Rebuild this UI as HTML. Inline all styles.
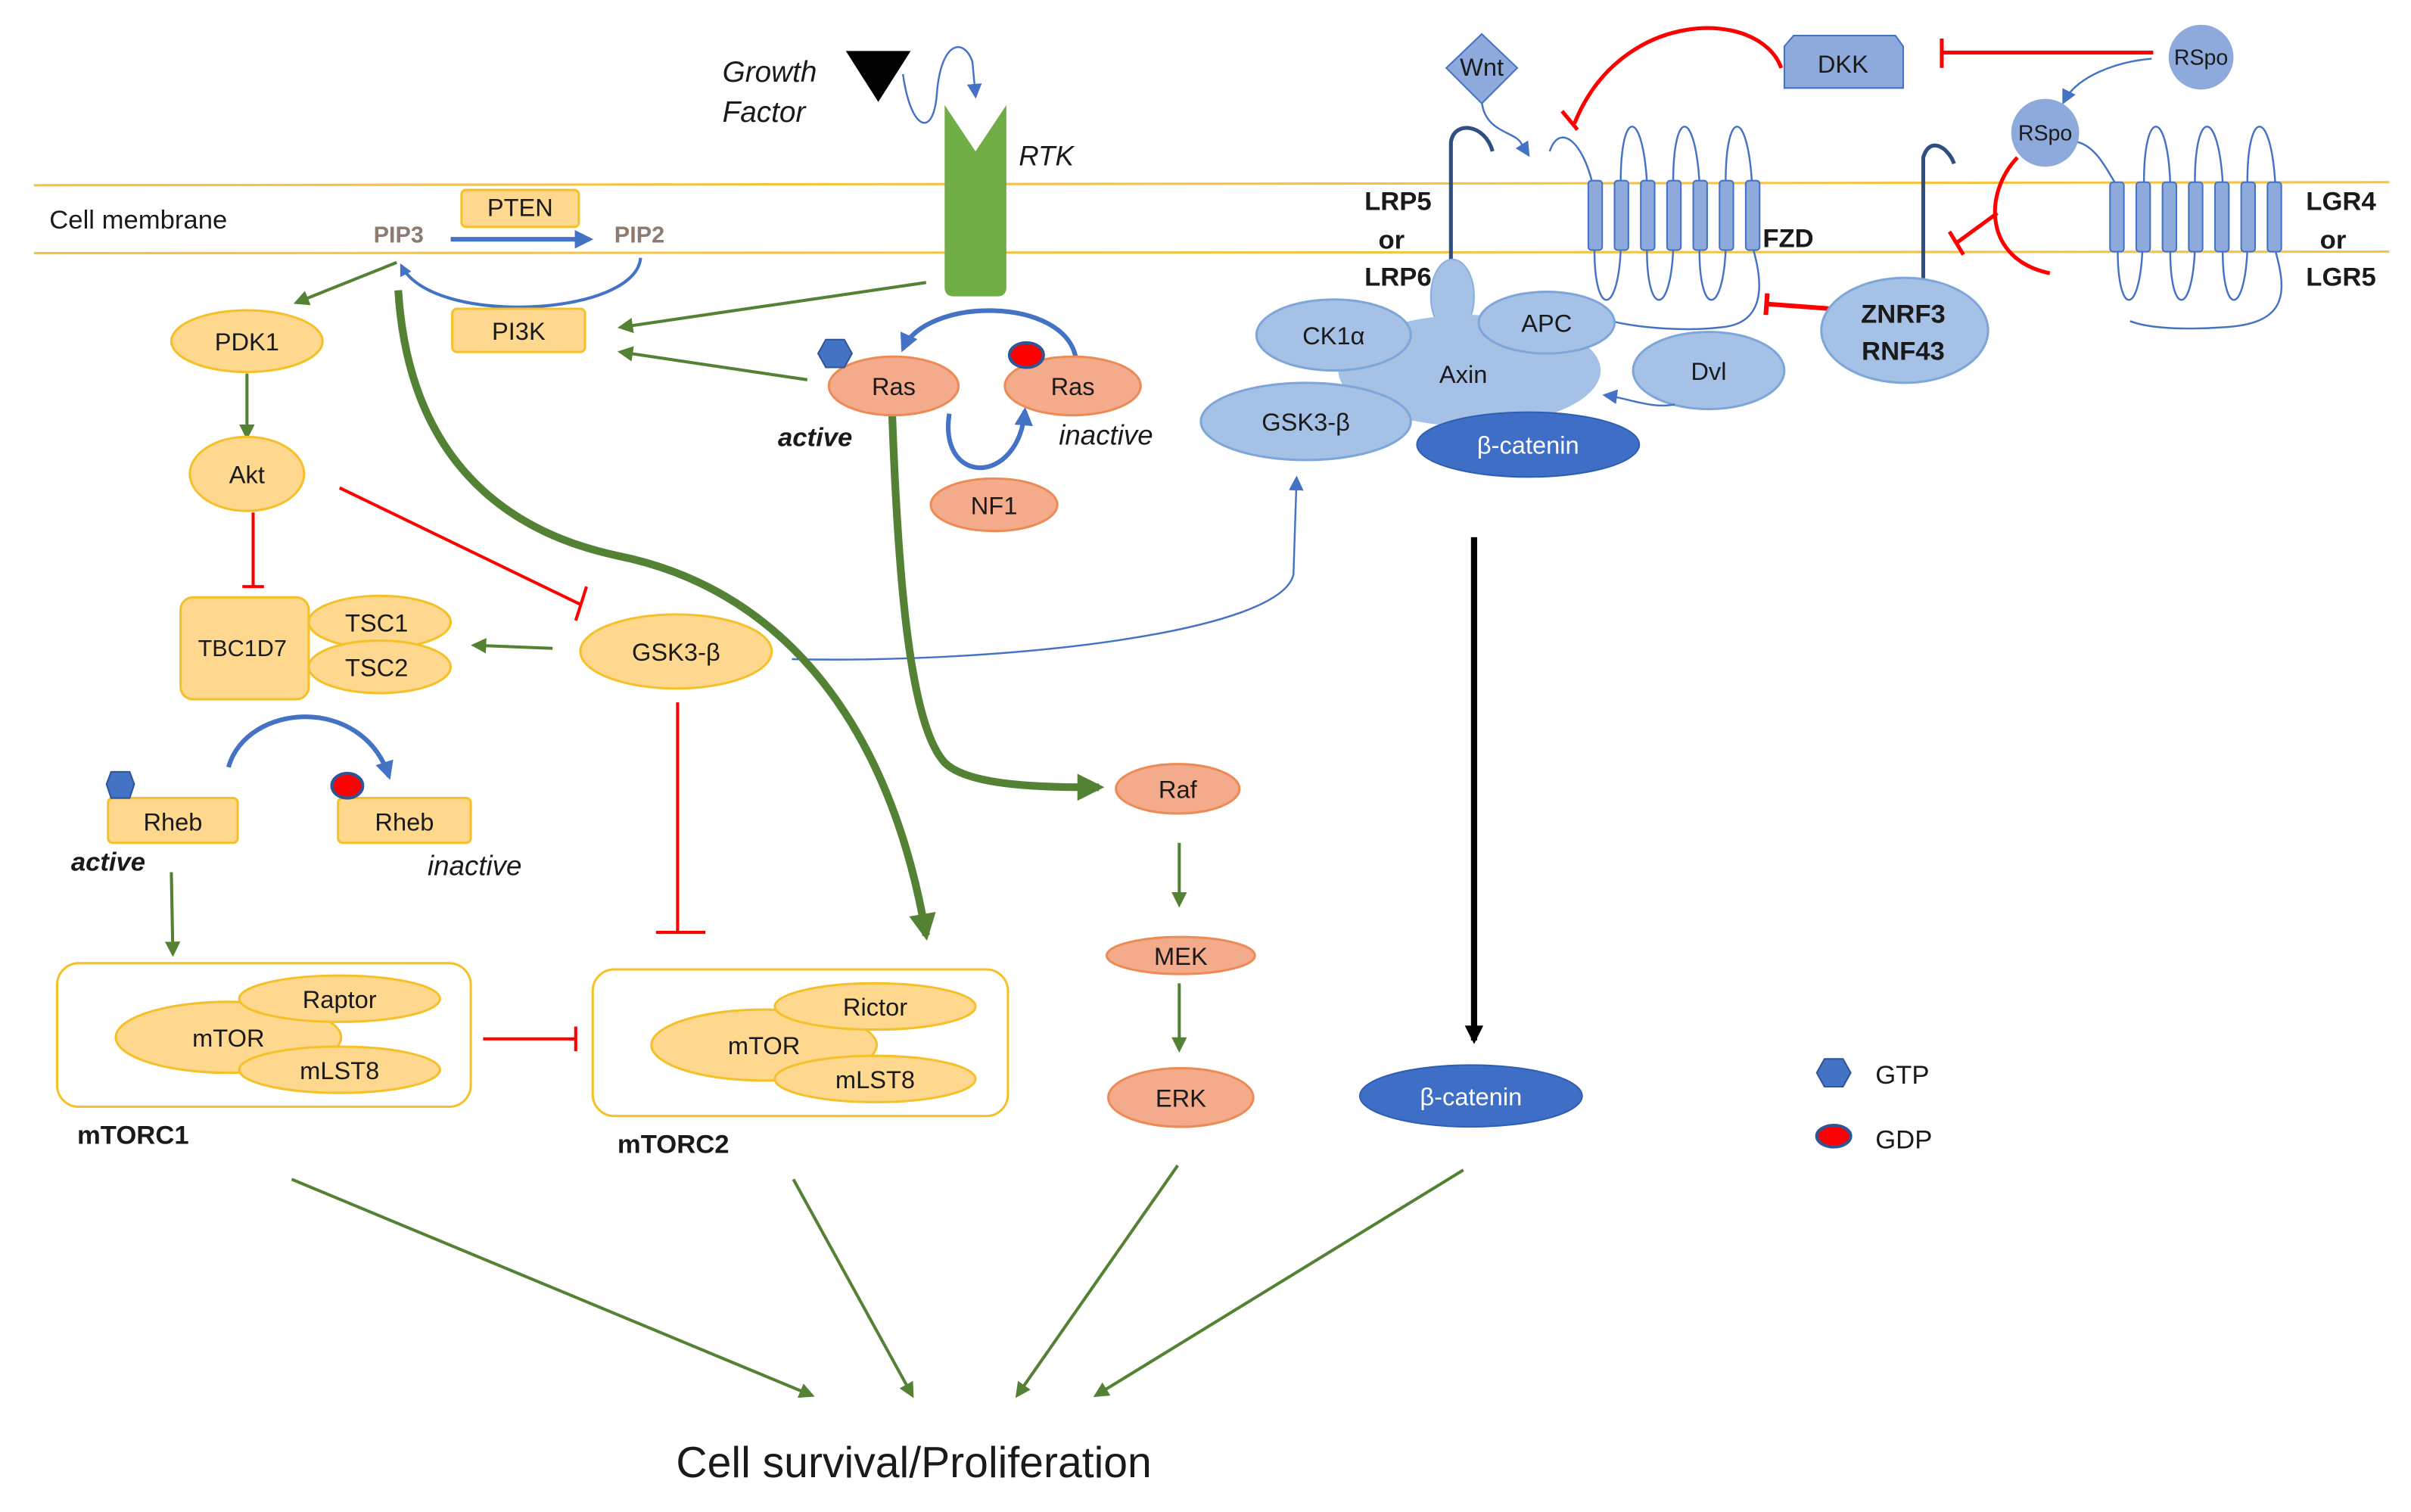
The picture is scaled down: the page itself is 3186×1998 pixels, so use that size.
<!DOCTYPE html>
<html><head><meta charset="utf-8"><style>
html,body{margin:0;padding:0;background:#fff;width:3186px;height:1998px;overflow:hidden}
svg{display:block;font-size:16px;font-family:"Liberation Sans",sans-serif}
text{fill:#1a1a1a}
.c{text-anchor:middle}
.y{fill:#fdd88e;stroke:#f5c02a;stroke-width:1.5}
.s{fill:#f4ab8c;stroke:#ec8b55;stroke-width:1.5}
.b{fill:#a5c1e6;stroke:#7fa6d9;stroke-width:1.5}
.g{stroke:#548235;stroke-width:2;fill:none}
.r{stroke:#ff0000;stroke-width:2;fill:none}
.bl{stroke:#4472c4;stroke-width:3;fill:none}
.tb{stroke:#4472c4;stroke-width:1.2;fill:none}
.bold{font-weight:bold}
.it{font-style:italic}
</style></head><body>
<svg width="3186" height="1998" viewBox="0 0 1562 979.5" xmlns="http://www.w3.org/2000/svg">
<defs>
<marker id="ag" viewBox="0 0 10 10" refX="8" refY="5" markerWidth="5" markerHeight="5" orient="auto"><path d="M0,0L10,5L0,10z" fill="#548235"/></marker>
<marker id="agb" viewBox="0 0 10 10" refX="8" refY="5" markerWidth="3.5" markerHeight="3.5" orient="auto"><path d="M0,0L10,5L0,10z" fill="#548235"/></marker>
<marker id="ab" viewBox="0 0 10 10" refX="8" refY="5" markerWidth="4" markerHeight="4" orient="auto"><path d="M0,0L10,5L0,10z" fill="#4472c4"/></marker>
<marker id="abt" viewBox="0 0 10 10" refX="8" refY="5" markerWidth="8" markerHeight="8" orient="auto"><path d="M0,0L10,5L0,10z" fill="#4472c4"/></marker>
<marker id="ak" viewBox="0 0 10 10" refX="8" refY="5" markerWidth="3" markerHeight="3" orient="auto"><path d="M0,0L10,5L0,10z" fill="#000"/></marker>
</defs>

<line x1="22" y1="120" x2="1548" y2="118" stroke="#f5c242" stroke-width="1.5"/>
<line x1="22" y1="164" x2="1548" y2="163" stroke="#f5c242" stroke-width="1.5"/>
<text x="32" y="148" font-size="17">Cell membrane</text>

<text x="468" y="53" font-size="19" class="it">Growth</text>
<text x="468" y="79" font-size="19" class="it">Factor</text>
<path d="M548,33L590,33L569,66z" fill="#000"/>
<path d="M585,48C590,85 605,90 607,60C610,25 625,25 630,40L632,62" class="tb" marker-end="url(#abt)"/>
<path d="M612,68L632,98L652,68L652,186Q652,192 646,192L618,192Q612,192 612,186z" fill="#70ad47"/>
<text x="660" y="107" font-size="18" class="it">RTK</text>

<rect x="299" y="123" width="76" height="24" rx="3" class="y"/>
<text x="337" y="140" class="c">PTEN</text>
<text x="242" y="157" style="fill:#8c7b70" class="bold" font-size="15">PIP3</text>
<text x="398" y="157" style="fill:#8c7b70" class="bold" font-size="15">PIP2</text>
<line x1="292" y1="155" x2="382" y2="155" class="bl" marker-end="url(#ab)"/>
<path d="M415,167C412,205 280,212 260,172" stroke="#4472c4" stroke-width="2" fill="none" marker-end="url(#ab)"/>
<rect x="293" y="200" width="86" height="28" rx="3" class="y"/>
<text x="336" y="220" class="c">PI3K</text>

<line x1="257" y1="170" x2="192" y2="196" class="g" marker-end="url(#ag)"/>
<ellipse cx="160" cy="221" rx="49" ry="20" class="y"/><text x="160" y="227" class="c">PDK1</text>
<line x1="160" y1="242" x2="160" y2="283" class="g" marker-end="url(#ag)"/>
<ellipse cx="160" cy="307" rx="37" ry="24" class="y"/><text x="160" y="313" class="c">Akt</text>
<path d="M164,332L164,380M157,380L171,380" class="r"/>
<path d="M220,316L377,392M373,402L380,380" class="r"/>

<rect x="117" y="387" width="83" height="66" rx="8" class="y"/>
<text x="157" y="425" class="c" font-size="15">TBC1D7</text>
<ellipse cx="246" cy="403" rx="46" ry="17" class="y"/><text x="244" y="409" class="c">TSC1</text>
<ellipse cx="246" cy="432" rx="46" ry="17" class="y"/><text x="244" y="438" class="c">TSC2</text>
<line x1="358" y1="420" x2="307" y2="418" class="g" marker-end="url(#ag)"/>
<ellipse cx="438" cy="422" rx="62" ry="24" class="y"/><text x="438" y="428" class="c">GSK3-β</text>
<path d="M439,455L439,604M425,604L457,604" class="r"/>
<path d="M513,427C650,430 830,410 838,372L840,310" class="tb" marker-end="url(#abt)"/>

<path d="M258,188C265,300 330,345 400,360C500,380 575,460 600,606" stroke="#548235" stroke-width="5" fill="none" marker-end="url(#agb)"/>
<path d="M578,268C582,380 590,470 612,494C628,510 680,510 712,510" stroke="#548235" stroke-width="5" fill="none" marker-end="url(#agb)"/>
<line x1="600" y1="183" x2="402" y2="212" class="g" marker-end="url(#ag)"/>
<line x1="523" y1="246" x2="402" y2="228" class="g" marker-end="url(#ag)"/>

<path d="M697,232C690,192 600,192 585,226" class="bl" marker-end="url(#ab)"/>
<path d="M615,268C608,315 660,315 664,266" class="bl" marker-end="url(#ab)"/>
<ellipse cx="579" cy="250" rx="42" ry="19" class="s"/><text x="579" y="256" class="c">Ras</text>
<ellipse cx="695" cy="250" rx="44" ry="19" class="s"/><text x="695" y="256" class="c">Ras</text>
<path d="M535,220L547,220L552,229L547,238L535,238L530,229z" fill="#4472c4" stroke="#2f5597"/>
<ellipse cx="665" cy="230" rx="11" ry="8" fill="#ff0000" stroke="#2f5597" stroke-width="2"/>
<text x="504" y="289" font-size="17" class="bold it">active</text>
<text x="686" y="288" font-size="18" class="it">inactive</text>
<ellipse cx="644" cy="327" rx="41" ry="17" class="s"/><text x="644" y="333" class="c">NF1</text>

<ellipse cx="763" cy="511" rx="40" ry="16" class="s"/><text x="763" y="517" class="c">Raf</text>
<line x1="764" y1="546" x2="764" y2="586" class="g" marker-end="url(#ag)"/>
<ellipse cx="765" cy="619" rx="48" ry="12" class="s"/><text x="765" y="625" class="c">MEK</text>
<line x1="764" y1="637" x2="764" y2="680" class="g" marker-end="url(#ag)"/>
<ellipse cx="765" cy="711" rx="47" ry="19" class="s"/><text x="765" y="717" class="c">ERK</text>

<path d="M148,497C160,455 235,450 252,503" class="bl" marker-end="url(#ab)"/>
<rect x="70" y="517" width="84" height="29" rx="3" class="y"/><text x="112" y="538" class="c">Rheb</text>
<path d="M72,500L84,500L87,508L84,517L72,517L69,508z" fill="#4472c4" stroke="#2f5597"/>
<rect x="219" y="517" width="86" height="29" rx="3" class="y"/><text x="262" y="538" class="c">Rheb</text>
<ellipse cx="225" cy="509" rx="10" ry="8" fill="#ff0000" stroke="#2f5597" stroke-width="2"/>
<text x="46" y="564" font-size="17" class="bold it">active</text>
<text x="277" y="567" font-size="18" class="it">inactive</text>
<line x1="111" y1="565" x2="112" y2="618" class="g" marker-end="url(#ag)"/>

<rect x="37" y="624" width="268" height="93" rx="14" fill="none" stroke="#f5c02a" stroke-width="1.5"/>
<ellipse cx="148" cy="672" rx="73" ry="23" class="y"/>
<ellipse cx="220" cy="647" rx="65" ry="15" class="y"/>
<ellipse cx="220" cy="693" rx="65" ry="15" class="y"/>
<text x="148" y="678" class="c">mTOR</text><text x="220" y="653" class="c">Raptor</text><text x="220" y="699" class="c">mLST8</text>
<text x="50" y="741" class="bold" font-size="17">mTORC1</text>
<path d="M313,673L373,673M373,665L373,681" class="r" stroke-width="2.5"/>

<rect x="384" y="628" width="269" height="95" rx="14" fill="none" stroke="#f5c02a" stroke-width="1.5"/>
<ellipse cx="495" cy="677" rx="73" ry="23" class="y"/>
<ellipse cx="567" cy="652" rx="65" ry="15" class="y"/>
<ellipse cx="567" cy="699" rx="65" ry="15" class="y"/>
<text x="495" y="683" class="c">mTOR</text><text x="567" y="658" class="c">Rictor</text><text x="567" y="705" class="c">mLST8</text>
<text x="400" y="747" class="bold" font-size="17">mTORC2</text>

<line x1="189" y1="764" x2="526" y2="904" class="g" marker-end="url(#ag)"/>
<line x1="514" y1="764" x2="591" y2="904" class="g" marker-end="url(#ag)"/>
<line x1="763" y1="755" x2="659" y2="904" class="g" marker-end="url(#ag)"/>
<line x1="948" y1="758" x2="710" y2="904" class="g" marker-end="url(#ag)"/>
<text x="438" y="957" font-size="28">Cell survival/Proliferation</text>

<line x1="955" y1="348" x2="955" y2="674" stroke="#000" stroke-width="4" marker-end="url(#ak)"/>
<ellipse cx="953" cy="710" rx="72" ry="20" fill="#3f6ec6" stroke="#2f5fb5"/>
<text x="953" y="716" class="c" style="fill:#fff">β-catenin</text>

<path d="M1182,686L1194,686L1199,695L1194,704L1182,704L1177,695z" fill="#4472c4" stroke="#2f5597"/>
<text x="1215" y="702" font-size="17">GTP</text>
<ellipse cx="1188" cy="736" rx="11" ry="7" fill="#ff0000" stroke="#2f5597" stroke-width="2"/>
<text x="1215" y="744" font-size="17">GDP</text>

<path d="M1154,44C1140,5 1050,5 1020,80" stroke="#ff0000" stroke-width="2.5" fill="none"/>
<line x1="1012" y1="72" x2="1022" y2="84" stroke="#ff0000" stroke-width="2.5"/>
<path d="M960,66C962,85 980,85 985,92L990,100" class="tb" marker-end="url(#abt)"/>
<path d="M960,22L983,44L960,67L937,44z" fill="#8ea9db" stroke="#4472c4"/>
<text x="960" y="49" class="c">Wnt</text>
<path d="M1156,30L1162,23L1228,23L1233,30L1233,57L1156,57z" fill="#8ea9db" stroke="#4472c4"/>
<text x="1194" y="47" class="c">DKK</text>
<path d="M1395,34L1258,34M1258,25L1258,44" stroke="#ff0000" stroke-width="2.5" fill="none"/>
<path d="M1394,38C1370,40 1345,50 1337,66" class="tb" marker-end="url(#abt)"/>
<ellipse cx="1426" cy="37" rx="21" ry="21" fill="#8ea9db"/><text x="1426" y="42" class="c" font-size="14">RSpo</text>
<ellipse cx="1325" cy="86" rx="22" ry="22" fill="#8ea9db"/><text x="1325" y="91" class="c" font-size="14">RSpo</text>

<path d="M940,200L940,92C942,78 962,80 967,98" stroke="#2f4f80" stroke-width="2.5" fill="none"/>
<ellipse cx="941" cy="192" rx="14" ry="24" fill="#a5c1e6" stroke="#8bb0de"/>
<text x="884" y="136" class="bold" font-size="17">LRP5</text>
<text x="893" y="161" class="bold" font-size="17">or</text>
<text x="884" y="185" class="bold" font-size="17">LRP6</text>

<g class="tb">
<path d="M1004,98C1010,80 1025,90 1032,120"/>
<path d="M1050,118C1050,70 1064,70 1067,118"/>
<path d="M1084,118C1084,70 1098,70 1101,118"/>
<path d="M1118,118C1118,70 1132,70 1135,118"/>
<path d="M1033,162C1033,205 1048,205 1050,162"/>
<path d="M1067,162C1067,205 1082,205 1084,162"/>
<path d="M1101,162C1101,205 1116,205 1118,162"/>
<path d="M1136,162C1144,190 1140,210 1115,212C1090,215 1060,212 1044,208"/>
</g>
<g fill="#8ea9db" stroke="#4472c4" stroke-width="1">
<rect x="1029" y="117" width="9" height="45" rx="2"/><rect x="1046" y="117" width="9" height="45" rx="2"/><rect x="1063" y="117" width="9" height="45" rx="2"/><rect x="1080" y="117" width="9" height="45" rx="2"/><rect x="1097" y="117" width="9" height="45" rx="2"/><rect x="1114" y="117" width="9" height="45" rx="2"/><rect x="1131" y="117" width="9" height="45" rx="2"/>
</g>
<text x="1142" y="160" class="bold" font-size="17">FZD</text>

<g class="tb">
<path d="M1346,92C1358,95 1365,110 1370,118"/>
<path d="M1389,118C1389,70 1404,70 1406,118"/>
<path d="M1422,118C1422,70 1437,70 1440,118"/>
<path d="M1456,118C1456,70 1471,70 1474,118"/>
<path d="M1372,162C1372,205 1386,205 1388,162"/>
<path d="M1406,162C1406,205 1420,205 1422,162"/>
<path d="M1440,162C1440,205 1454,205 1456,162"/>
<path d="M1474,162C1482,190 1482,210 1440,212C1410,214 1390,212 1380,208"/>
</g>
<g fill="#8ea9db" stroke="#4472c4" stroke-width="1">
<rect x="1367" y="118" width="9" height="45" rx="2"/><rect x="1384" y="118" width="9" height="45" rx="2"/><rect x="1401" y="118" width="9" height="45" rx="2"/><rect x="1418" y="118" width="9" height="45" rx="2"/><rect x="1435" y="118" width="9" height="45" rx="2"/><rect x="1452" y="118" width="9" height="45" rx="2"/><rect x="1469" y="118" width="9" height="45" rx="2"/>
</g>
<text x="1494" y="136" class="bold" font-size="17">LGR4</text>
<text x="1503" y="161" class="bold" font-size="17">or</text>
<text x="1494" y="185" class="bold" font-size="17">LGR5</text>

<path d="M1246,185L1246,102C1250,88 1262,95 1266,106" stroke="#2f4f80" stroke-width="2.5" fill="none"/>
<path d="M1307,102C1285,125 1285,168 1328,177" stroke="#ff0000" stroke-width="2.5" fill="none"/>
<path d="M1294,138L1268,157M1263,150L1272,165" stroke="#ff0000" stroke-width="2.5" fill="none"/>
<path d="M1186,200L1146,197M1145,190L1144,204" stroke="#ff0000" stroke-width="3" fill="none"/>
<ellipse cx="1234" cy="214" rx="54" ry="34" class="b"/>
<text x="1233" y="209" class="c bold" font-size="17">ZNRF3</text>
<text x="1233" y="233" class="c bold" font-size="17">RNF43</text>

<ellipse cx="952" cy="240" rx="85" ry="36" style="fill:#a5c1e6;stroke:none"/>
<ellipse cx="864" cy="217" rx="50" ry="23" class="b"/><text x="864" y="223" class="c">CK1α</text>
<ellipse cx="1002" cy="209" rx="44" ry="20" class="b"/><text x="1002" y="215" class="c">APC</text>
<text x="948" y="248" class="c">Axin</text>
<ellipse cx="846" cy="273" rx="68" ry="25" class="b"/><text x="846" y="279" class="c">GSK3-β</text>
<ellipse cx="990" cy="288" rx="72" ry="21" fill="#3f6ec6" stroke="#2f5fb5"/>
<text x="990" y="294" class="c" style="fill:#fff">β-catenin</text>
<ellipse cx="1107" cy="240" rx="49" ry="25" class="b"/><text x="1107" y="246" class="c">Dvl</text>
<path d="M1085,262C1070,265 1055,258 1040,256" class="tb" marker-end="url(#abt)"/>
</svg>
</body></html>
